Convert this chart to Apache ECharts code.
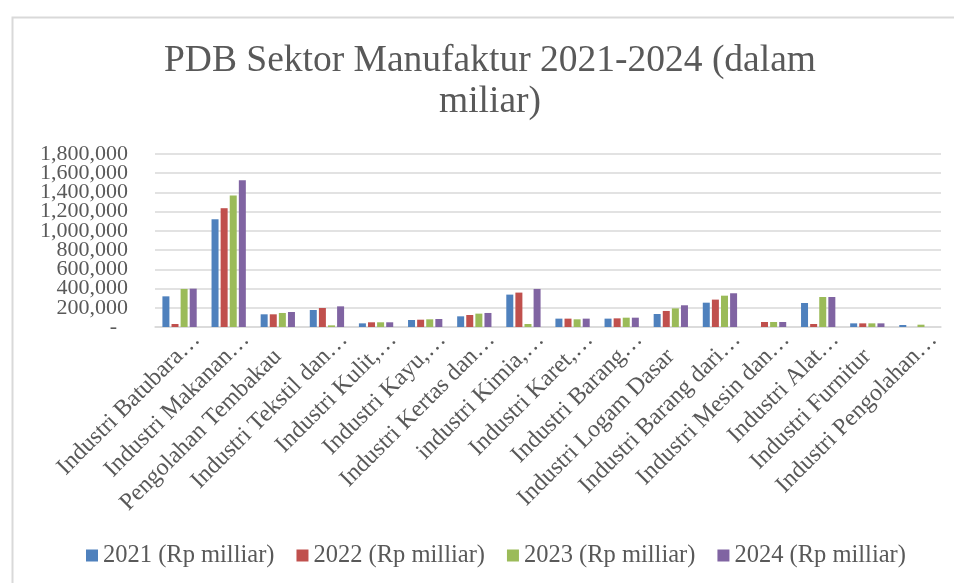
<!DOCTYPE html>
<html>
<head>
<meta charset="utf-8">
<script src="https://cdn.jsdelivr.net/npm/echarts@6/dist/echarts.min.js"></script>
<style>
html,body{margin:0;padding:0;background:#fff;}
#c{width:954px;height:583px;}
</style>
</head>
<body>
<div id="c"></div>
<script>
const categories = [
  "Industri Batubara…", "Industri Makanan…", "Pengolahan Tembakau", "Industri Tekstil dan…",
  "Industri Kulit,…", "Industri Kayu,…", "Industri Kertas dan…", "industri Kimia,…",
  "Industri Karet,…", "Industri Barang…", "Industri Logam Dasar", "Industri Barang dari…",
  "Industri Mesin dan…", "Industri Alat…", "Industri Furnitur", "Industri Pengolahan…"
];
const seriesNames = ["2021 (Rp milliar)", "2022 (Rp milliar)", "2023 (Rp milliar)", "2024 (Rp milliar)"];
const v2021 = [319000, 1121000, 132000, 177000, 38000, 73000, 111000, 337000, 87000, 87000, 135000, 253000, 0, 250000, 38000, 21000];
const v2022 = [31000, 1236000, 132000, 198000, 49000, 76000, 125000, 358000, 87000, 90000, 167000, 285000, 52000, 31000, 38000, 0];
const v2023 = [396000, 1368000, 146000, 17000, 49000, 80000, 139000, 31000, 80000, 97000, 194000, 326000, 52000, 312000, 38000, 24000];
const v2024 = [399000, 1528000, 156000, 215000, 49000, 83000, 146000, 396000, 87000, 97000, 226000, 351000, 52000, 312000, 38000, 0];
const yMin = 0, yMax = 1800000, yStep = 200000;
const colors = ["#4F81BD", "#C0504D", "#9BBB59", "#8064A2"];

const FONT = "'Liberation Serif', 'Times New Roman', serif";
const TXT = "#595959";
const allValues = [v2021, v2022, v2023, v2024];

function yFmt(v) { return v === 0 ? '-  ' : v.toLocaleString('en-US'); }

const chart = echarts.init(document.getElementById('c'), null, {renderer: 'canvas'});
chart.setOption({
  animation: false,
  backgroundColor: '#fff',
  color: colors,
  title: {
    text: 'PDB Sektor Manufaktur 2021-2024 (dalam\nmiliar)',
    left: 485, top: 36, textAlign: 'center',
    textStyle: {fontFamily: FONT, fontSize: 37.5, fontWeight: 'normal', color: TXT, lineHeight: 41}
  },
  graphic: [{
    type: 'rect', left: 10, top: 15, z: -10, silent: true,
    shape: {width: 970, height: 600},
    style: {fill: 'none', stroke: '#d9d9d9', lineWidth: 2}
  }],
  legend: {
    left: 86, top: 543, padding: 0,
    itemWidth: 12, itemHeight: 12, itemGap: 22,
    icon: 'rect',
    textStyle: {fontFamily: FONT, fontSize: 24.5, color: TXT},
    data: seriesNames
  },
  grid: {left: 155, right: 13, top: 154, bottom: 256, containLabel: false, outerBoundsMode: 'none'},
  xAxis: {
    type: 'category',
    data: categories,
    axisTick: {show: false},
    axisLine: {lineStyle: {color: '#d9d9d9', width: 1.5}},
    axisLabel: {
      interval: 0, rotate: 45, margin: 26,
      fontFamily: FONT, fontSize: 24, color: TXT,
      formatter: function (v) {
        if (v.endsWith('…')) return '{t|' + v.slice(0, -1) + '}{e|…}';
        return '{t|' + v + '}';
      },
      rich: {
        t: {fontFamily: FONT, fontSize: 24, color: TXT},
        e: {fontFamily: FONT, fontSize: 24, color: TXT, padding: [0, -24, 0, 0]}
      }
    }
  },
  yAxis: [{
    type: 'value', min: yMin, max: yMax, interval: yStep,
    axisLine: {show: false}, axisTick: {show: false},
    splitLine: {lineStyle: {color: '#d9d9d9', width: 1.5}},
    axisLabel: {
      margin: 27, fontFamily: FONT, fontSize: 22, color: TXT,
      showMinLabel: false, showMaxLabel: false, hideOverlap: false,
      formatter: yFmt
    }
  }, {
    type: 'value', position: 'left', min: yMin, max: yMax, interval: yMax - yMin,
    axisLine: {show: false}, axisTick: {show: false}, splitLine: {show: false},
    axisLabel: {
      margin: 27, fontFamily: FONT, fontSize: 22, color: TXT,
      showMinLabel: true, showMaxLabel: true,
      formatter: yFmt
    }
  }],
  series: seriesNames.map(function (n, i) {
    return {
      name: n, type: 'bar', data: allValues[i], yAxisIndex: 0,
      barWidth: 7, barGap: '30%',
      itemStyle: {color: colors[i]}
    };
  })
});
</script>
</body>
</html>
